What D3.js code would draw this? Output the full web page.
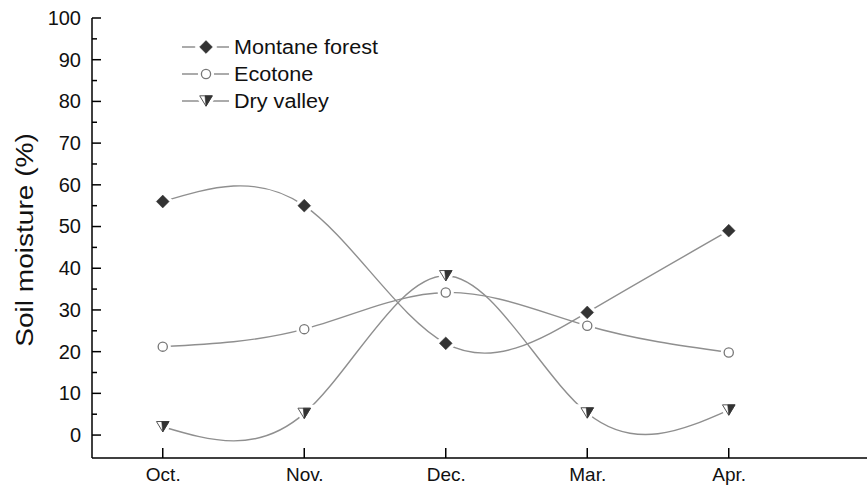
<!DOCTYPE html>
<html>
<head>
<meta charset="utf-8">
<script src="https://cdn.jsdelivr.net/npm/d3@7"></script>
<style>
  html, body { margin: 0; padding: 0; background: #fff; }
  svg { display: block; font-family: "Liberation Sans", Arial, sans-serif; }
</style>
</head>
<body>
<svg id="chart" width="867" height="486"></svg>
<script>
const months = ["Oct.", "Nov.", "Dec.", "Mar.", "Apr."];
const montaneForest = [56.0, 55.0, 22.0, 29.4, 49.0];
const ecotone = [21.2, 25.4, 34.2, 26.2, 19.8];
const dryValley = [2.0, 5.2, 38.2, 5.3, 6.0];
const yTicks = [0, 10, 20, 30, 40, 50, 60, 70, 80, 90, 100];
const seriesNames = ["Montane forest", "Ecotone", "Dry valley"];

const series = [
  { name: seriesNames[0], values: montaneForest, marker: "diamond" },
  { name: seriesNames[1], values: ecotone, marker: "circle" },
  { name: seriesNames[2], values: dryValley, marker: "triangle" }
];

const svg = d3.select("#chart");
const x0 = 92, xAxisY = 458;
const x = d3.scaleLinear().domain([-0.5, 5]).range([x0, x0 + 5.5 * 141.5]);
const y = d3.scaleLinear().domain([-5.5, 100]).range([xAxisY, 18]);

const lineColor = "#8f8f8f";
const dark = "#333";
const textColor = "#111";

function stretch(sel, factor) {
  sel.each(function () {
    const len = this.getComputedTextLength();
    d3.select(this).attr("textLength", len * factor).attr("lengthAdjust", "spacingAndGlyphs");
  });
}

// axes
const yAxis = d3.axisLeft(y).tickValues(yTicks).tickSize(0).tickPadding(11).tickFormat(d3.format("d"));
const gy = svg.append("g").attr("transform", `translate(${x0},0)`).call(yAxis);
gy.select(".domain").remove();
gy.selectAll("text").attr("font-size", 20).attr("fill", textColor)
  .attr("font-family", "Liberation Sans, Arial, sans-serif");

// y ticks inward
const minorTicks = d3.range(5, 100, 10);
svg.append("g").selectAll("line").data(yTicks).join("line")
  .attr("x1", x0).attr("x2", x0 + 9).attr("y1", d => y(d)).attr("y2", d => y(d))
  .attr("stroke", "#000").attr("stroke-width", 1.5);
svg.append("g").selectAll("line").data(minorTicks).join("line")
  .attr("x1", x0).attr("x2", x0 + 5).attr("y1", d => y(d)).attr("y2", d => y(d))
  .attr("stroke", "#000").attr("stroke-width", 1.5);

const xAxis = d3.axisBottom(x).tickValues(d3.range(months.length)).tickSize(0).tickPadding(10)
  .tickFormat(i => months[i]);
const gx = svg.append("g").attr("transform", `translate(0,${xAxisY})`).call(xAxis);
gx.select(".domain").remove();
gx.selectAll("text").attr("font-size", 19).attr("fill", textColor)
  .attr("font-family", "Liberation Sans, Arial, sans-serif");
svg.append("g").selectAll("line").data(d3.range(months.length)).join("line")
  .attr("x1", d => x(d)).attr("x2", d => x(d)).attr("y1", xAxisY).attr("y2", xAxisY - 10)
  .attr("stroke", "#000").attr("stroke-width", 1.5);

// axis lines
svg.append("line").attr("x1", x0).attr("x2", x0).attr("y1", y(100)).attr("y2", xAxisY)
  .attr("stroke", "#000").attr("stroke-width", 1.5);
svg.append("line").attr("x1", x0).attr("x2", 867).attr("y1", xAxisY).attr("y2", xAxisY)
  .attr("stroke", "#000").attr("stroke-width", 1.5);

// axis title
const title = svg.append("text").attr("transform", `translate(33,240) rotate(-90)`)
  .attr("text-anchor", "middle").attr("font-size", 23).attr("fill", textColor)
  .text("Soil moisture (%)");
stretch(title, 1.22);

// markers
function drawMarker(g, type, cx, cy, halo) {
  if (type === "diamond") {
    const r = 6.4;
    g.append("path").attr("d", `M${cx},${cy - r}L${cx + r},${cy}L${cx},${cy + r}L${cx - r},${cy}Z`)
      .attr("fill", halo ? "#fff" : dark).attr("stroke", halo ? "#fff" : dark)
      .attr("stroke-width", halo ? 7 : 0.5);
  } else if (type === "circle") {
    g.append("circle").attr("cx", cx).attr("cy", cy).attr("r", 4.6)
      .attr("fill", "#fff").attr("stroke", halo ? "#fff" : "#777")
      .attr("stroke-width", halo ? 7 : 1.3);
  } else {
    const w = 6.3, h = 5.2;
    const tri = `M${cx - w},${cy - h}L${cx + w},${cy - h}L${cx},${cy + h}Z`;
    if (halo) {
      g.append("path").attr("d", tri).attr("fill", "#fff").attr("stroke", "#fff").attr("stroke-width", 7);
    } else {
      g.append("path").attr("d", tri).attr("fill", "#fff").attr("stroke", "#555").attr("stroke-width", 1);
      g.append("path").attr("d", `M${cx - 1},${cy - h}L${cx + w},${cy - h}L${cx},${cy + h}Z`)
        .attr("fill", dark).attr("stroke", dark).attr("stroke-width", 0.6);
    }
  }
}

const line = d3.line().x((d, i) => x(i)).y(d => y(d)).curve(d3.curveNatural);

const gLines = svg.append("g");
series.forEach(s => {
  gLines.append("path").attr("d", line(s.values)).attr("fill", "none")
    .attr("stroke", lineColor).attr("stroke-width", 1.4);
});
const gHalo = svg.append("g");
const gMarks = svg.append("g");
series.forEach(s => {
  s.values.forEach((v, i) => drawMarker(gHalo, s.marker, x(i), y(v), true));
});
series.forEach(s => {
  s.values.forEach((v, i) => drawMarker(gMarks, s.marker, x(i), y(v), false));
});

// legend
const legend = svg.append("g");
const legY = [47, 74, 101];
series.forEach((s, k) => {
  const ly = legY[k];
  legend.append("line").attr("x1", 182).attr("x2", 229).attr("y1", ly).attr("y2", ly)
    .attr("stroke", lineColor).attr("stroke-width", 1.4);
  drawMarker(legend, s.marker, 206, ly, true);
  drawMarker(legend, s.marker, 206, ly, false);
  const t = legend.append("text").attr("x", 234).attr("y", ly + 7).attr("font-size", 20).attr("fill", textColor)
    .text(s.name);
  stretch(t, 1.08);
});
</script>
</body>
</html>
